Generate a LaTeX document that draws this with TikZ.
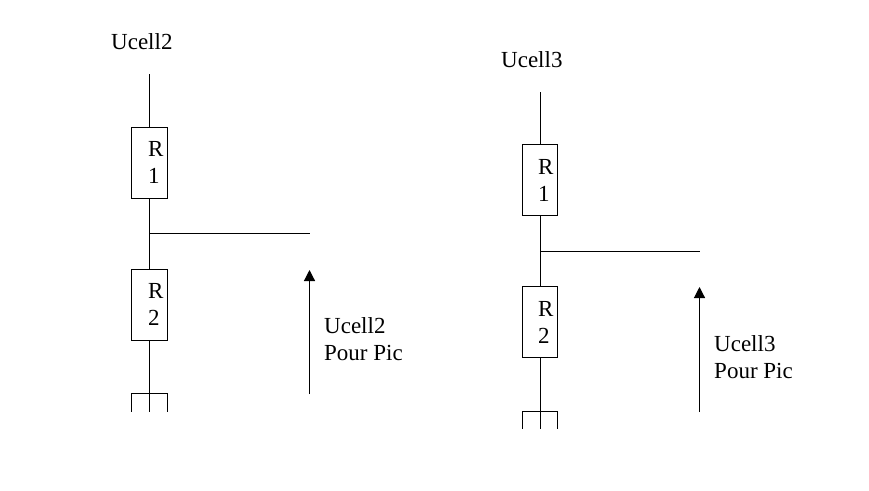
\documentclass[tikz,border=0pt]{standalone}
\usepackage{fontspec}
\setmainfont{Liberation Serif}
\usetikzlibrary{arrows.meta}
\tikzset{
  resbox/.style={draw, rectangle, line width=1.2pt, minimum width=36pt, minimum height=71pt, inner sep=0pt},
  gndbox/.style={rectangle, minimum width=36pt, minimum height=18pt, inner sep=0pt},
  wire/.style={draw, line width=1.2pt},
  uarrow/.style={draw, line width=1.2pt, -{Triangle[length=11pt,width=11pt]}},
  lbl/.style={inner sep=0pt, anchor=base west, align=left, font=\fontsize{23}{27}\selectfont}
}
\begin{document}
\begin{tikzpicture}[x=1pt, y=-1pt]
    \useasboundingbox (0,0) rectangle (869,490);
    % Ucell2
    \node[lbl] (name2) at (111,49) {Ucell2};
    \coordinate (top2) at (149.5,74);
    \node[resbox] (ra2) at (149.5,163) {};
    \node[lbl] (ratxt2) at (148,183) {R\\1};
    \node[resbox] (rb2) at (149.5,305) {};
    \node[lbl] (rbtxt2) at (148,325) {R\\2};
    \node[gndbox] (gnd2) at (149.5,402.5) {};
    \coordinate (junc2) at (149.5,233.5);
    \coordinate (out2) at (310,233.5);
    \coordinate (foot2) at (309.5,394);
    \coordinate (tip2) at (309.5,270);
    \node[lbl] (pic2) at (324,360) {Ucell2\\Pour Pic};
    \draw[wire] (top2) -- (ra2.north);
    \draw[wire] (ra2.south) -- (rb2.north);
    \draw[wire] (rb2.south) -- (gnd2.south);
    \draw[wire] (junc2) -- (out2);
    \draw[wire] (gnd2.south west) -- (gnd2.north west) -- (gnd2.north east) -- (gnd2.south east);
    \draw[uarrow] (foot2) -- (tip2);
    % Ucell3
    \node[lbl] (name3) at (501,67) {Ucell3};
    \coordinate (top3) at (540.5,92);
    \node[resbox, minimum width=35pt] (ra3) at (540,180) {};
    \node[lbl] (ratxt3) at (538,201) {R\\1};
    \node[resbox, minimum width=35pt] (rb3) at (540,322) {};
    \node[lbl] (rbtxt3) at (538,343) {R\\2};
    \node[gndbox, minimum width=35pt, minimum height=17pt] (gnd3) at (540,420) {};
    \coordinate (junc3) at (540.5,251.5);
    \coordinate (out3) at (700,251.5);
    \coordinate (foot3) at (699.5,412);
    \coordinate (tip3) at (699.5,287);
    \node[lbl] (pic3) at (714,378) {Ucell3\\Pour Pic};
    \draw[wire] (top3) -- (top3 |- ra3.north);
    \draw[wire] (top3 |- ra3.south) -- (top3 |- rb3.north);
    \draw[wire] (top3 |- rb3.south) -- (top3 |- gnd3.south);
    \draw[wire] (junc3) -- (out3);
    \draw[wire] (gnd3.south west) -- (gnd3.north west) -- (gnd3.north east) -- (gnd3.south east);
    \draw[uarrow] (foot3) -- (tip3);
\end{tikzpicture}
\end{document}
